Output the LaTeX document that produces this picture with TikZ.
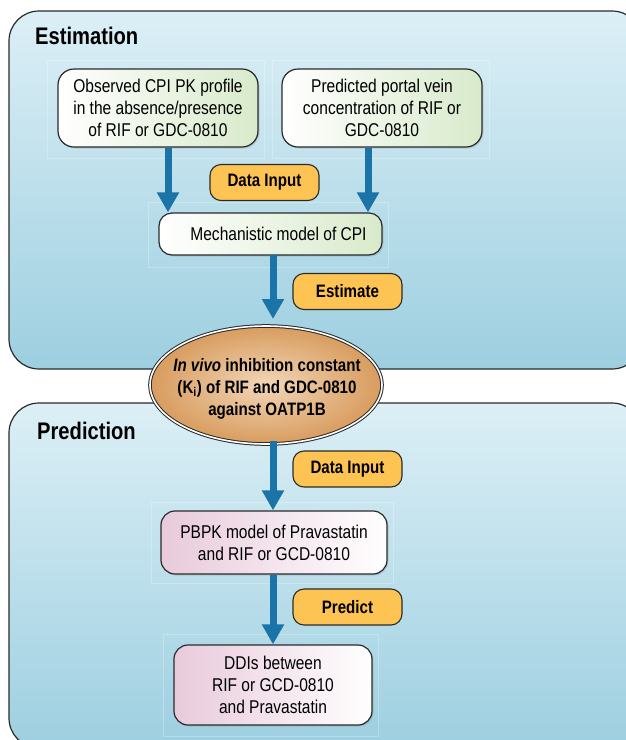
\documentclass[tikz,border=0pt]{standalone}
\usepackage{fontspec}
\setmainfont{Liberation Sans}[FakeStretch=0.84]
\usetikzlibrary{arrows.meta,shapes.geometric,shadows}
\definecolor{arrowblue}{HTML}{1A74A8}
\definecolor{paneltop}{HTML}{DCEFF6}
\definecolor{panelbot}{HTML}{9DCFE0}
\definecolor{boxgreen}{HTML}{D8EACB}
\definecolor{boxpink}{HTML}{E8CADB}
\definecolor{labelorange}{HTML}{FDC453}
\definecolor{edgedark}{HTML}{2A2A2A}
\definecolor{tanout}{HTML}{D89C5E}
\definecolor{tanin}{HTML}{F2D6B8}
\tikzset{
  panel/.style={draw=edgedark, line width=1.2pt, rounded corners=30pt, top color=paneltop, bottom color=panelbot},
  paneltitle/.style={anchor=west, font=\fontsize{24}{28}\selectfont\bfseries, inner sep=0pt},
  greenbox/.style={draw=edgedark, line width=1.2pt, rounded corners=16pt, left color=white, right color=boxgreen,
    align=center, font=\fontsize{18.5}{22}\selectfont, inner sep=0pt,
    drop shadow={opacity=0.25, shadow xshift=1.5pt, shadow yshift=-1.5pt}},
  pinkbox/.style={draw=edgedark, line width=1.2pt, rounded corners=14pt, left color=boxpink, right color=white,
    align=center, font=\fontsize{18.5}{22}\selectfont, inner sep=0pt,
    drop shadow={opacity=0.25, shadow xshift=1.5pt, shadow yshift=-1.5pt}},
  tag/.style={draw=edgedark, line width=1.1pt, rounded corners=11pt, fill=labelorange,
    font=\fontsize{18}{22}\selectfont\bfseries, inner sep=0pt, minimum width=109pt, minimum height=36pt},
  flow/.style={draw=arrowblue, line width=7pt, -{Triangle[width=21pt,length=20pt]}},
  faint/.style={draw=white, opacity=0.25, line width=0.6pt},
}
\begin{document}
\begin{tikzpicture}[x=1pt,y=-1pt]
\useasboundingbox (0,0) rectangle (625,740);
% panels
\path[panel] (9,11) rectangle (642,369);
\path[panel] (9,403) rectangle (642,748);
\node[paneltitle] (t1) at (35,36) {Estimation};
\node[paneltitle] (t2) at (37,431) {Prediction};
% faint frames
\draw[faint] (47,60) rectangle (264,158);
\draw[faint] (272,60) rectangle (489,158);
\draw[faint] (148,202) rectangle (388,267);
\draw[faint] (151,502) rectangle (393,583);
\draw[faint] (163,634) rectangle (378,736);
% boxes
\node[greenbox, minimum width=200pt, minimum height=78pt] (obs) at (158,108)
  {Observed CPI PK profile\\in the absence/presence\\of RIF or GDC-0810};
\node[greenbox, minimum width=200pt, minimum height=78pt] (pred) at (382,108)
  {Predicted portal vein\\concentration of RIF or\\GDC-0810};
\node[greenbox, rounded corners=13pt, minimum width=223pt, minimum height=42pt] (mech) at (270.5,234)
  {\hspace*{16pt}Mechanistic model of CPI};
\node[tag] (di1) at (264.5,182.5) {Data Input};
\node[tag] (est) at (347.5,291.5) {Estimate};
\node[pinkbox, minimum width=226pt, minimum height=63pt] (pbpk) at (274,542.5)
  {PBPK model of Pravastatin\\and RIF or GCD-0810};
\node[tag] (di2) at (347.5,469) {Data Input};
\node[tag] (prd) at (347.5,607) {Predict};
\node[pinkbox, minimum width=198pt, minimum height=80pt] (ddi) at (273,685)
  {DDIs between\\RIF or GCD-0810\\and Pravastatin};
% arrows
\draw[flow] ([xshift=10pt]obs.south) -- ([xshift=10pt]obs.south |- mech.north);
\draw[flow] ([xshift=-14pt]pred.south) -- ([xshift=-14pt]pred.south |- mech.north);
\coordinate (a3e) at (273,319);
\draw[flow] (273,255) -- (a3e);
% ellipse
\node[ellipse, draw=edgedark, line width=1pt, double=white, double distance=1.6pt,
  inner color=tanin, outer color=tanout, minimum width=232pt, minimum height=118pt,
  inner sep=0pt] (ell) at (266,385) {};
\node[align=center, font=\fontsize{18}{22}\selectfont\bfseries, inner sep=0pt] (ellt) at (267,389)
  {\textit{In vivo} inhibition constant\\(K\textsubscript{i}) of RIF and GDC-0810\\against OATP1B};
\coordinate (a4s) at (273,441);
\draw[flow] (a4s) -- (a4s |- pbpk.north);
\draw[flow] ([xshift=-1pt]pbpk.south) -- ([xshift=-1pt]pbpk.south |- ddi.north);
\end{tikzpicture}
\end{document}
